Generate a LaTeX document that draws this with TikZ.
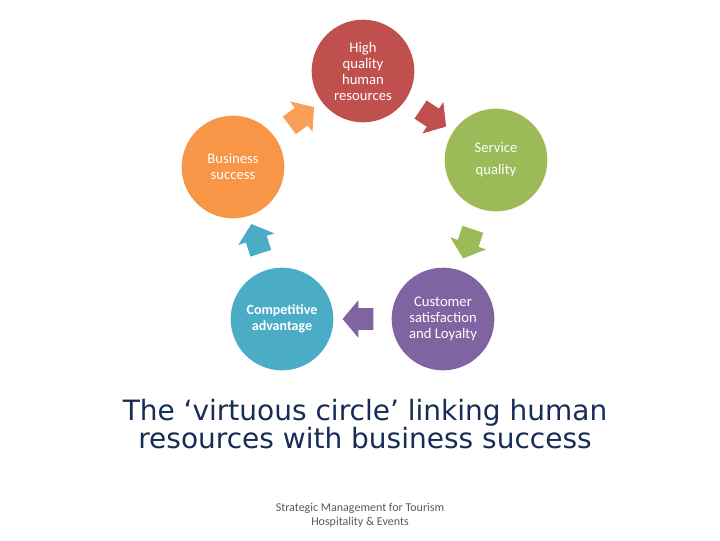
\documentclass[tikz,border=0pt]{standalone}
\usepackage{fontspec}
\setmainfont{Carlito}
\newfontfamily\titlefont{DejaVu Sans}
\usetikzlibrary{shapes.arrows}
\definecolor{hrred}{RGB}{192,80,77}
\definecolor{svcgreen}{RGB}{155,187,89}
\definecolor{satpurple}{RGB}{128,100,162}
\definecolor{compblue}{RGB}{75,172,198}
\definecolor{busorange}{RGB}{247,150,70}
\definecolor{titlenavy}{RGB}{23,45,85}
\begin{document}
\begin{tikzpicture}[x=0.75pt,y=-0.75pt,
  stage/.style={circle, minimum size=77pt, inner sep=0pt, align=center, text=white,
    font=\fontsize{11}{12}\selectfont},
  flow/.style={single arrow, sloped, allow upside down, inner xsep=0pt, inner ysep=8pt,
    text height=0pt, text depth=0pt, minimum height=23pt,
    single arrow head extend=6pt, single arrow tip angle=100}]
%set diagram left start at 0, and has height of 540
\path (0,0) rectangle (720,540);

%Shape: Circle [id:hr]
\node (hr) [stage, fill=hrred] at (363,71) {High\\quality\\human\\resources};
%Shape: Circle [id:svc]
\node (svc) [stage, fill=svcgreen] at (496,160) {Service\\[4.5pt]quality};
%Shape: Circle [id:sat]
\node (sat) [stage, fill=satpurple] at (443,319) {Customer\\satisfaction\\and Loyalty};
%Shape: Circle [id:comp]
\node (comp) [stage, fill=compblue, font=\fontsize{10.5}{12}\selectfont\bfseries] at (282,319) {Competitive\\advantage};
%Shape: Circle [id:bus]
\node (bus) [stage, fill=busorange] at (233,167) {Business\\success};

%Shape: Arrows
\path (bus) -- node[flow, fill=busorange!90!white] {} (hr);
\path (hr) -- node[flow, fill=hrred] {} (svc);
\path (svc) -- node[flow, fill=svcgreen] {} (sat);
\path (sat) -- node[flow, fill=satpurple] {} (comp);
\path (comp) -- node[flow, fill=compblue] {} (bus);

% Text Node
\node (title) [align=center, text=titlenavy, font=\titlefont\fontsize{21}{19.5}\selectfont] at (365,424)
  {The ‘virtuous circle’ linking human\\resources with business success};
% Text Node
\node (foot) [align=center, text=black!65, font=\fontsize{9}{10.5}\selectfont] at (360,515)
  {Strategic Management for Tourism\\Hospitality \& Events};

\end{tikzpicture}
\end{document}
